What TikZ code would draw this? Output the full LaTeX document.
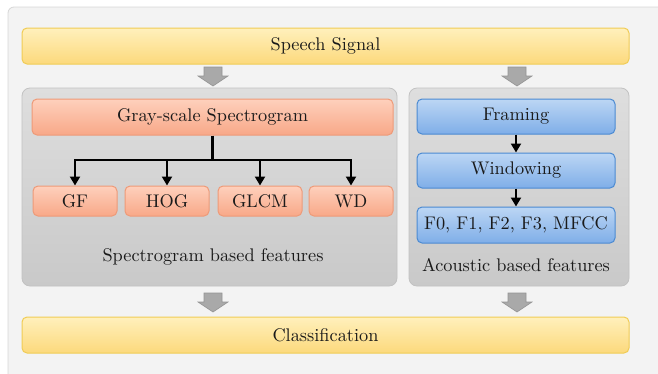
\documentclass[tikz,border=0pt]{standalone}
\usepackage{fontspec}
\setmainfont{lmroman10-regular.otf}
\usetikzlibrary{arrows.meta}
\definecolor{outerbg}{HTML}{F3F3F3}
\definecolor{outerline}{HTML}{D6D6D6}
\definecolor{ylwtop}{HTML}{FFF0BC}
\definecolor{ylwbot}{HTML}{FCD97C}
\definecolor{ylwline}{HTML}{F0CC55}
\definecolor{pnltop}{HTML}{DEDEDE}
\definecolor{pnlbot}{HTML}{C9C9C9}
\definecolor{pnlline}{HTML}{C2C2C2}
\definecolor{saltop}{HTML}{FED0BC}
\definecolor{salbot}{HTML}{F8A888}
\definecolor{salline}{HTML}{EE9A78}
\definecolor{blutop}{HTML}{BCD6F4}
\definecolor{blubot}{HTML}{7FAEE8}
\definecolor{bluline}{HTML}{4B8AD2}
\definecolor{arrgray}{HTML}{A9A9A9}
\definecolor{arrline}{HTML}{959595}
\definecolor{txt}{HTML}{1A1A1A}
\tikzset{
  basebox/.style={rounded corners=5pt, line width=1pt, inner sep=0pt, text=txt,
    font=\fontsize{18.3}{21}\selectfont},
  ylwbox/.style={basebox, draw=ylwline, top color=ylwtop, bottom color=ylwbot,
    minimum width=607pt, minimum height=36pt},
  salbox/.style={basebox, draw=salline, top color=saltop, bottom color=salbot,
    minimum height=30pt},
  blubox/.style={basebox, draw=bluline, top color=blutop, bottom color=blubot,
    minimum width=198pt, minimum height=35pt},
  panel/.style={rounded corners=8pt, draw=pnlline, line width=0.8pt, top color=pnltop, bottom color=pnlbot},
  lbl/.style={text=txt, inner sep=0pt, font=\fontsize{18.3}{21}\selectfont},
  tree/.style={line width=2.2pt, black},
  treearrow/.style={tree, -{Triangle[width=10pt,length=9pt]}},
  downarrow/.pic={\draw[fill=arrgray, draw=arrline, line width=0.6pt]
     (-9,0) -- (9,0) -- (9,9) -- (15,9) -- (0,19) -- (-15,9) -- (-9,9) -- cycle;}
}
\begin{document}
\begin{tikzpicture}[x=1pt,y=-1pt]
\useasboundingbox (0,0) rectangle (658,373);
\begin{scope}
\clip (0,0) rectangle (658,373);
\draw[rounded corners=6pt, fill=outerbg, draw=outerline, line width=0.8pt] (8,7) rectangle (680,395);
\end{scope}

% top and bottom bars
\node[ylwbox] (speech) at (325.5,46) {Speech Signal};
\node[ylwbox] (classif) at (325.5,335) {Classification};

% panels
\node[panel, minimum width=375pt, minimum height=198pt, inner sep=0pt] (lpanel) at (209.5,187) {};
\node[panel, minimum width=220pt, minimum height=198pt, inner sep=0pt] (rpanel) at (519,187) {};

% gray block arrows
\pic at (213,67) {downarrow};
\pic at (517,67) {downarrow};
\pic at (213,293) {downarrow};
\pic at (517,293) {downarrow};

% left panel content
\node[salbox, minimum width=361pt, minimum height=36pt] (gray) at (212.5,117) {Gray-scale Spectrogram};
\node[salbox, minimum width=84pt] (gf) at (75,201) {GF};
\node[salbox, minimum width=84pt] (hog) at (167,201) {HOG};
\node[salbox, minimum width=84pt] (glcm) at (260,201) {GLCM};
\node[salbox, minimum width=84pt] (wd) at (351,201) {WD};
\coordinate (junc) at (gray.south |- 0,160);
\draw[tree] (gray.south) -- (junc);
\draw[treearrow] (junc) -| (gf.north);
\draw[treearrow] (junc) -| (hog.north);
\draw[treearrow] (junc) -| (glcm.north);
\draw[treearrow] (junc) -| (wd.north);
\node[lbl] (slbl) at (213,257) {Spectrogram based features};

% right panel content
\node[blubox] (framing) at (516,116.5) {Framing};
\node[blubox] (window) at (516,170.5) {Windowing};
\node[blubox, minimum height=36pt] (feat) at (516,225) {F0, F1, F2, F3, MFCC};
\draw[treearrow] (framing) -- (window);
\draw[treearrow] (window) -- (feat);
\node[lbl] (albl) at (516,265) {Acoustic based features};
\end{tikzpicture}
\end{document}
